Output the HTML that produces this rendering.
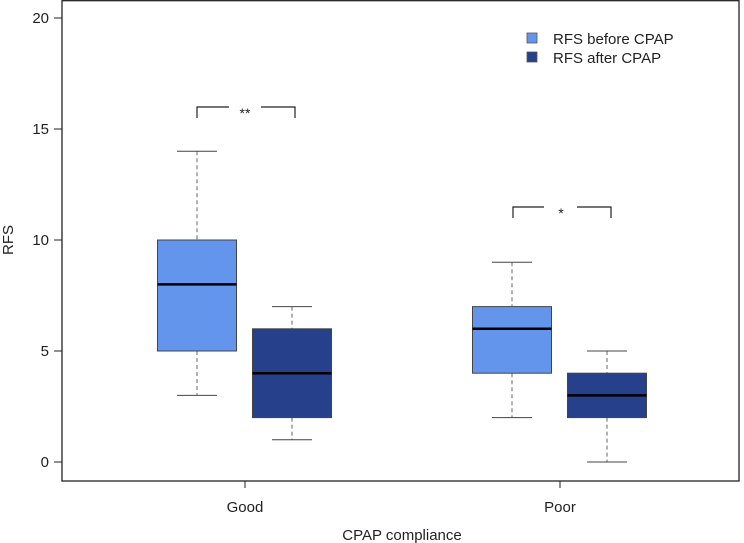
<!DOCTYPE html>
<html><head><meta charset="utf-8"><style>
html,body{margin:0;padding:0;background:#fff;}
svg{display:block;font-family:"Liberation Sans",Arial,sans-serif;}
</style></head><body>
<svg id="chart" width="744" height="543" viewBox="0 0 744 543">
<rect x="62" y="0.7" width="677" height="480.3" fill="none" stroke="#222" stroke-width="1.3"/>
<g id="yaxis"></g>
<g id="xaxis"></g>
<g id="boxes"></g>
<text x="13" y="240" font-size="15" text-anchor="middle" transform="rotate(-90 13 240)" fill="#222">RFS</text>
<text x="402" y="540" font-size="15" text-anchor="middle" fill="#222">CPAP compliance</text>
<g>
<g>
<rect x="527" y="33" width="10" height="10" fill="#6495ED" stroke="#555" stroke-width="0.8"/>
<text x="553" y="44" font-size="15" fill="#222">RFS before CPAP</text></g>
<g>
<rect x="527" y="52" width="10" height="10" fill="#27408B" stroke="#555" stroke-width="0.8"/>
<text x="553" y="63" font-size="15" fill="#222">RFS after CPAP</text></g>
</g>
<g>
<path d="M197,118 V107 H229 M261,107 H295 V118" fill="none" stroke="#222" stroke-width="1.2"/>
<text x="245" y="118" font-size="14" text-anchor="middle" fill="#222">**</text></g>
<g>
<path d="M513,218 V207 H544 M577,207 H611 V218" fill="none" stroke="#222" stroke-width="1.2"/>
<text x="561" y="218" font-size="14" text-anchor="middle" fill="#222">*</text></g>
</svg>
<script>
const categories = ["Good", "Poor"];
const seriesNames = ["RFS before CPAP", "RFS after CPAP"];
const beforeStats = [[3, 5, 8, 10, 14], [2, 4, 6, 7, 9]];
const afterStats = [[1, 2, 4, 6, 7], [0, 2, 3, 4, 5]];
const yTicks = [0, 5, 10, 15, 20];

const NS = "http://www.w3.org/2000/svg";
function y(v){ return 462 - v * 22.2; }
function xCat(i){ return 245 + i * 315; }
function mk(tag, attrs, parent){ const e = document.createElementNS(NS, tag); for (const k in attrs) e.setAttribute(k, attrs[k]); parent.appendChild(e); return e; }

const ya = document.getElementById("yaxis");
yTicks.forEach(t => {
  const l = mk("line", {x1:54, x2:62, y1:y(t), y2:y(t), stroke:"#222"}, ya);
  
  
  const tx = mk("text", {x:49, y:y(t)+5, "font-size":15, "text-anchor":"end", fill:"#222"}, ya);
  tx.textContent = t;
  
  
});
const xa = document.getElementById("xaxis");
categories.forEach((c, i) => {
  const l = mk("line", {x1:xCat(i), x2:xCat(i), y1:481, y2:488, stroke:"#222"}, xa);
  
  
  const tx = mk("text", {x:xCat(i), y:512, "font-size":15, "text-anchor":"middle", fill:"#222"}, xa);
  tx.textContent = c;
  
  
});

const bx = document.getElementById("boxes");
function drawBox(s, cx, color, name){
  const g = mk("g", {}, bx);
  
  
  const [mn, q1, md, q3, mx] = s, hw = 39.5, cw = 20;
  mk("line", {x1:cx, x2:cx, y1:y(mx), y2:y(q3), stroke:"#666", "stroke-dasharray":"4,3"}, g);
  mk("line", {x1:cx, x2:cx, y1:y(q1), y2:y(mn), stroke:"#666", "stroke-dasharray":"4,3"}, g);
  mk("line", {x1:cx-cw, x2:cx+cw, y1:y(mx), y2:y(mx), stroke:"#444"}, g);
  mk("line", {x1:cx-cw, x2:cx+cw, y1:y(mn), y2:y(mn), stroke:"#444"}, g);
  mk("rect", {x:cx-hw, y:y(q3), width:2*hw, height:y(q1)-y(q3), fill:color, stroke:"#444"}, g);
  mk("line", {x1:cx-hw, x2:cx+hw, y1:y(md), y2:y(md), stroke:"#000", "stroke-width":2.5}, g);
}
categories.forEach((c, i) => {
  drawBox(beforeStats[i], xCat(i) - 48, "#6495ED", "box-before-" + c.toLowerCase());
  drawBox(afterStats[i], xCat(i) + 47, "#27408B", "box-after-" + c.toLowerCase());
});
</script>
</body></html>
